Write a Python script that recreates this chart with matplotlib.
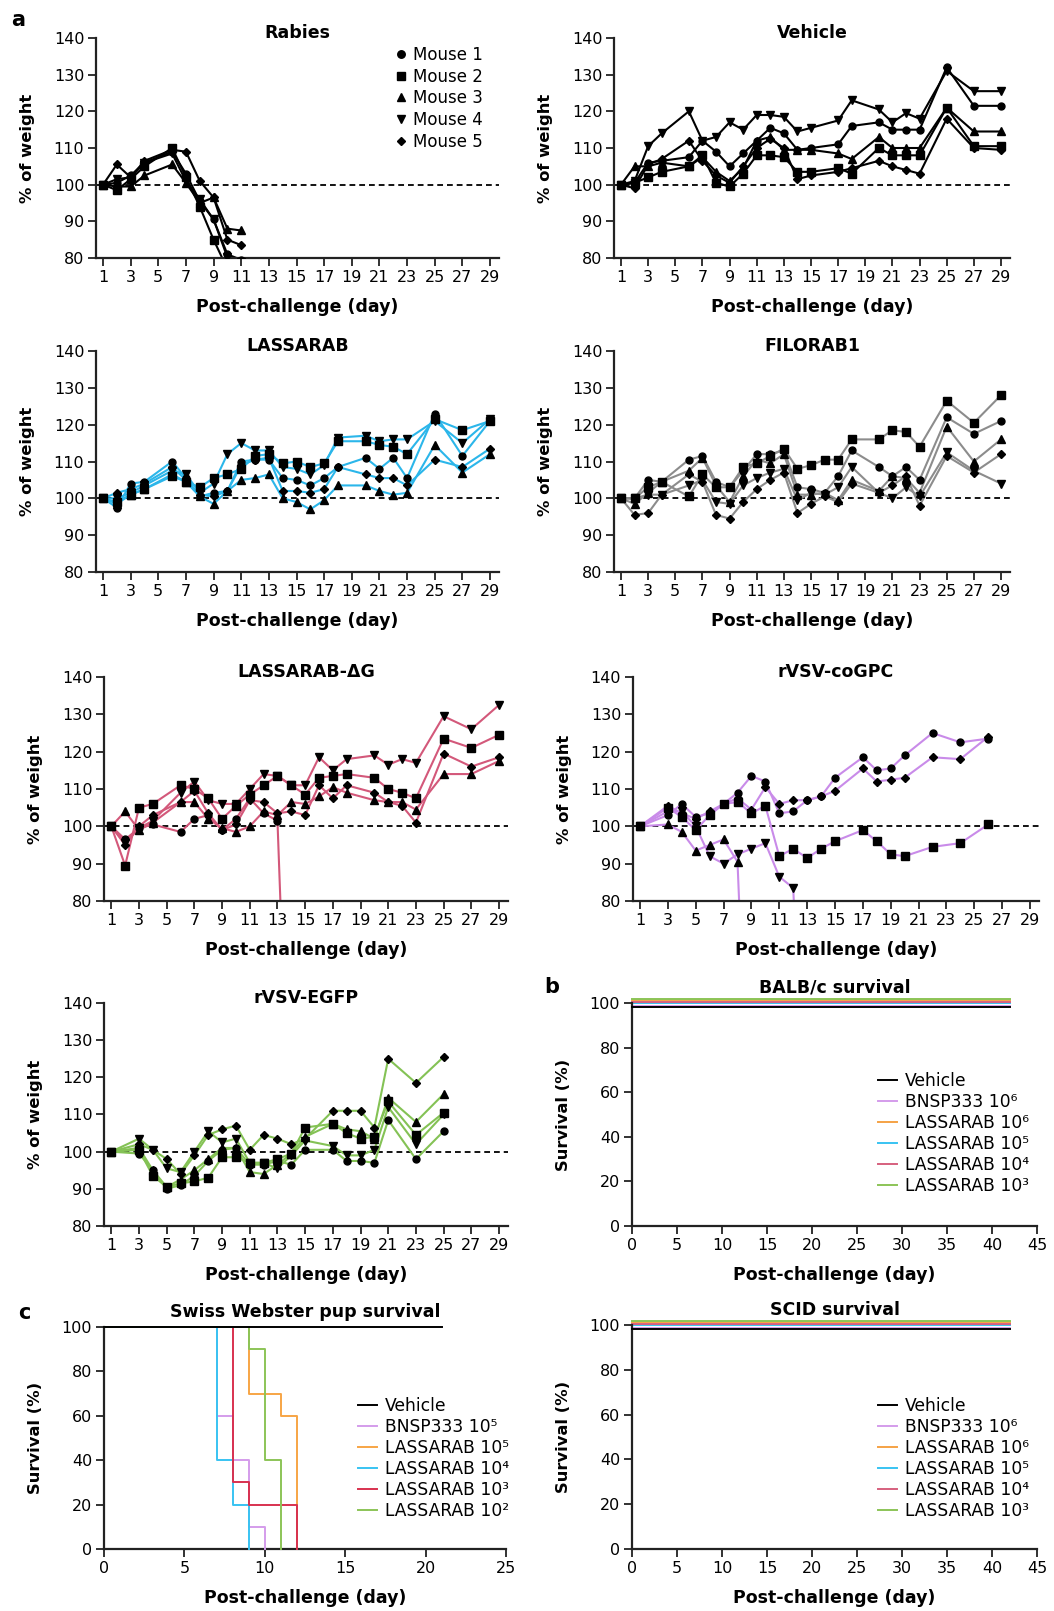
import numpy as np
import matplotlib
matplotlib.use("Agg")
import matplotlib.pyplot as plt
from matplotlib.lines import Line2D
from matplotlib import transforms

plt.rcParams["font.family"] = ["DejaVu Sans"]

nan = np.nan

# ---------------- weight data (% of starting weight) ----------------
mouse_labels = ["Mouse 1", "Mouse 2", "Mouse 3", "Mouse 4", "Mouse 5"]

rabies_days = [1, 2, 3, 4, 6, 7, 8, 9, 10, 11]
rabies_m1 = [100, 100.5, 102.5, 106, 109, 103, 95.5, 90.5, 81, 79.5]
rabies_m2 = [100, 98.5, 101.5, 105, 110, 102, 94, 85, 77, nan]
rabies_m3 = [100, 99.5, 99.5, 102.5, 105.5, 100.5, 95, 96.5, 88, 87.5]
rabies_m4 = [100, 101.5, 102, 106, 108.5, 101, 96, 90.5, 80.2, 79]
rabies_m5 = [100, 105.5, 102, 106.5, 109.5, 109, 101, 96.5, 85, 83.5]

vehicle_days = [1, 2, 3, 4, 6, 7, 8, 9, 10, 11, 12, 13, 14, 15, 17, 18, 20, 21, 22, 23, 25, 27, 29]
vehicle_m1 = [100, 100.5, 106, 106.5, 107.5, 112, 109, 105, 108.5, 112, 115.5, 114, 109.5, 110, 111, 116, 117, 115, 115, 115, 132, 121.5, 121.5]
vehicle_m2 = [100, 100.5, 102, 103.5, 105, 108, 100.5, 99.5, 103, 108, 108, 107.5, 103.5, 103.5, 104.5, 103, 110, 108, 108, 108, 121, 110.5, 110.5]
vehicle_m3 = [100, 105, 105, 106, 105, 107.5, 103.5, 101, 104.5, 112, 113, 109.5, 109.5, 109.5, 108.5, 107, 113, 110, 110, 110, 121, 114.5, 114.5]
vehicle_m4 = [100, 101, 110.5, 114, 120, 112, 113, 117, 115, 119, 119, 118.5, 114.5, 115.5, 117.5, 123, 120.5, 117, 119.5, 118, 131, 125.5, 125.5]
vehicle_m5 = [100, 99, 105.5, 107, 112, 106.5, 102.5, 100.5, 105, 110, 112.5, 110, 101.5, 102.5, 103.5, 104.5, 106.5, 105, 104, 103, 118, 110, 109.5]

lassarab_days = [1, 2, 3, 4, 6, 7, 8, 9, 10, 11, 12, 13, 14, 15, 16, 17, 18, 20, 21, 22, 23, 25, 27, 29]
lassarab_m1 = [100, 97.5, 104, 104.5, 110, 105.5, 100.5, 101.5, 102, 110, 110.5, 110.5, 105.5, 105, 103.5, 105.5, 108.5, 111, 108, 111, 105.5, 123, 111.5, 121]
lassarab_m2 = [100, 99, 101, 102.5, 106, 104.5, 103, 105.5, 106.5, 108, 111.5, 112, 109.5, 110, 108.5, 109.5, 115.5, 115.5, 114.5, 114, 112, 121.5, 118.5, 121]
lassarab_m3 = [100, 98.5, 101, 102.5, 106.5, 104.5, 100.5, 98.5, 102, 105, 105.5, 106.5, 100, 99, 97, 99.5, 103.5, 103.5, 102, 101, 101.5, 114.5, 107, 112]
lassarab_m4 = [100, 100, 101.5, 103.5, 107.5, 106.5, 101.5, 104, 112, 115, 113, 113, 108.5, 108, 106.5, 109, 116.5, 117, 115.5, 116, 116, 121, 115, 121.5]
lassarab_m5 = [100, 101.5, 102.5, 104, 108.5, 105, 101, 100.5, 102, 109, 110.5, 111, 102, 102, 101.5, 102.5, 108.5, 106.5, 105.5, 105.5, 103.5, 110.5, 108.5, 113.5]

filorab_days = [1, 2, 3, 4, 6, 7, 8, 9, 10, 11, 12, 13, 14, 15, 16, 17, 18, 20, 21, 22, 23, 25, 27, 29]
filorab_m1 = [100, 100, 105, 104.5, 110.5, 111.5, 104.5, 103, 107.5, 112, 112, 113, 103, 102.5, 101.5, 106, 113, 108.5, 106, 108.5, 105, 122, 117.5, 121]
filorab_m2 = [100, 100, 103, 104.5, 100.5, 106.5, 103, 103, 108.5, 109.5, 111.5, 113.5, 108, 109, 110.5, 110.5, 116, 116, 118.5, 118, 114, 126.5, 120.5, 128]
filorab_m3 = [100, 98.5, 101.5, 104.5, 107.5, 111, 103.5, 99, 106, 110.5, 109.5, 112, 101, 101, 101.5, 99.5, 105, 102, 106, 105.5, 101.5, 119.5, 110, 116]
filorab_m4 = [100, 100, 101, 101, 103.5, 105, 99, 98.5, 103.5, 105.5, 107, 108, 99.5, 101.5, 101, 103, 108.5, 101.5, 100, 103, 100.5, 112.5, 107.5, 104]
filorab_m5 = [100, 95.5, 96, 101, 106.5, 104.5, 95.5, 94.5, 99, 102.5, 105, 107, 96, 98.5, 100.5, 99, 104, 101.5, 103.5, 106, 98, 111.5, 107, 112]

dg_days = [1, 2, 3, 4, 6, 7, 8, 9, 10, 11, 12, 13, 14, 15, 16, 17, 18, 20, 21, 22, 23, 25, 27, 29]
dg_m1 = [100, 96.5, 99.5, 100.5, 98.5, 102, 103, 99, 102, 107.5, 103.5, 101.5, 0, nan, nan, nan, nan, nan, nan, nan, nan, nan, nan, nan]
dg_m2 = [100, 89.5, 105, 106, 111, 110, 107.5, 102, 105.5, 108.5, 111, 113.5, 111, 108.5, 113, 113.5, 114, 113, 110, 109, 107.5, 123.5, 121, 124.5]
dg_m3 = [100, 104, 99, 101, 106.5, 106.5, 102, 99.5, 98.5, 100, 104, 103, 106.5, 106, 108, 110.5, 109, 107, 106.5, 106.5, 104.5, 114, 114, 117.5]
dg_m4 = [100, 95.5, 99.5, 101.5, 109, 112, 107, 106, 106, 110, 114, 113.5, 111, 111, 118.5, 115, 118, 119, 116.5, 118, 117, 129.5, 126, 132.5]
dg_m5 = [100, 95, 100, 103, 106.5, 109.5, 103.5, 99, 100.5, 107, 106.5, 103.5, 104, 103, 111, 107.5, 111, 109, 106.5, 105.5, 101, 119.5, 116, 118.5]

cogpc_days = [1, 3, 4, 5, 6, 7, 8, 9, 10, 11, 12, 13, 14, 15, 17, 18, 19, 20, 22, 24, 26]
cogpc_m1 = [100, 103, 106, 102.5, 103.5, 106, 109, 113.5, 112, 103.5, 104, 107, 108, 113, 118.5, 115, 115.5, 119, 125, 122.5, 123.5]
cogpc_m2 = [100, 105, 102.5, 99, 103, 106, 106.5, 103.5, 105.5, 92, 94, 91.5, 94, 96, 99, 96, 92.5, 92, 94.5, 95.5, 100.5]
cogpc_m3 = [100, 100.5, 98.5, 93.5, 95, 96.5, 90.5, 0, nan, nan, nan, nan, nan, nan, nan, nan, nan, nan, nan, nan, nan]
cogpc_m4 = [100, 104, 104, 100, 92, 90, 92.5, 94, 95.5, 86.5, 83.5, 0, nan, nan, nan, nan, nan, nan, nan, nan, nan]
cogpc_m5 = [100, 105.5, 103.5, 102, 104, 106, 107.5, 104.5, 110.5, 106, 107, 107, 108, 109.5, 115.5, 112, 112.5, 113, 118.5, 118, 124]

egfp_days = [1, 3, 4, 5, 6, 7, 8, 9, 10, 11, 12, 13, 14, 15, 17, 18, 19, 20, 21, 23, 25]
egfp_m1 = [100, 99.5, 95, 90, 91, 93.5, 97.5, 100.5, 101, 96.5, 96.5, 97.5, 96.5, 100.5, 100.5, 97.5, 97.5, 97, 108.5, 98, 105.5]
egfp_m2 = [100, 100.5, 93.5, 90.5, 91.5, 92, 93, 98.5, 98.5, 97, 97, 98, 99.5, 106.5, 107.5, 105, 103.5, 104, 113.5, 104.5, 110.5]
egfp_m3 = [100, 101, 95, 90.5, 92.5, 95, 98, 101, 101, 94.5, 94, 96.5, 99.5, 104, 107.5, 106, 105.5, 103.5, 114.5, 108, 115.5]
egfp_m4 = [100, 103.5, 100.5, 95.5, 94.5, 100, 105.5, 102.5, 103.5, 97, 97, 95.5, 99, 103, 101.5, 99, 99, 100.5, 112, 102, 110]
egfp_m5 = [100, 102, 100.5, 98, 94, 99, 104.5, 106, 107, 100.5, 104.5, 103.5, 102, 103.5, 111, 111, 111, 106.5, 125, 118.5, 125.5]

# ---------------- survival data (Kaplan-Meier steps) ----------------
adult_groups = ["Vehicle", "BNSP333 10\u2076", "LASSARAB 10\u2076",
                "LASSARAB 10\u2075", "LASSARAB 10\u2074", "LASSARAB 10\u00b3"]
adult_times = [0, 42]
adult_surv = [100, 100]

pup_groups = ["Vehicle", "BNSP333 10\u2075", "LASSARAB 10\u2075",
              "LASSARAB 10\u2074", "LASSARAB 10\u00b3", "LASSARAB 10\u00b2"]
pup_vehicle_t = [0, 21]
pup_vehicle_s = [100, 100]
pup_bnsp_t = [0, 7, 8, 9, 10]
pup_bnsp_s = [100, 60, 40, 10, 0]
pup_l5_t = [0, 9, 11, 12]
pup_l5_s = [100, 70, 60, 0]
pup_l4_t = [0, 7, 8, 9]
pup_l4_s = [100, 40, 20, 0]
pup_l3_t = [0, 8, 9, 12]
pup_l3_s = [100, 30, 20, 0]
pup_l2_t = [0, 9, 10, 11]
pup_l2_s = [100, 90, 40, 0]

# ---------------- figure helpers ----------------
W, H = 1054, 1611
fig = plt.figure(figsize=(W / 100, H / 100), dpi=100)
fig.patch.set_facecolor("white")

SPINE = "#222222"
markers = ["o", "s", "^", "v", "D"]
msizes = [5.0, 5.2, 5.4, 5.4, 3.9]


def px_axes(l, t, r, b):
    return fig.add_axes([l / W, 1 - b / H, (r - l) / W, (b - t) / H])


def px_text(x, y, s, **kw):
    return fig.text(x / W, 1 - y / H, s, **kw)


def style(ax):
    for s in ("top", "right"):
        ax.spines[s].set_visible(False)
    for s in ("left", "bottom"):
        ax.spines[s].set_linewidth(1.6)
        ax.spines[s].set_color(SPINE)
    ax.tick_params(direction="out", length=5.5, width=1.3, color=SPINE,
                   labelsize=11.5, pad=3)


def labels(l, t, r, b, title, xlabel, ylabel, title_gap):
    cx = (l + r) / 2
    px_text(cx, t - title_gap, title, ha="center", va="center",
            fontsize=12.5, fontweight="bold")
    px_text(cx, b + 49, xlabel, ha="center", va="center",
            fontsize=12.5, fontweight="bold")
    px_text(l - 69, (t + b) / 2, ylabel, ha="center", va="center",
            rotation=90, fontsize=11.8, fontweight="bold")


def weight_panel(d1, d29, top, bottom, title, days, series, color, sq=5.2):
    ppd = (d29 - d1) / 28
    l, r = d1 - 0.5 * ppd, d29 + 0.65 * ppd
    ax = px_axes(l, top, r, bottom)
    style(ax)
    ax.set_xlim(0.5, 29.65)
    ax.set_ylim(80, 140)
    ax.set_xticks(range(1, 30, 2))
    ax.set_yticks(range(80, 141, 10))
    ax.axhline(100, color="black", lw=1.3, ls=(0, (3.2, 2.2)), zorder=1)
    for vals, m, ms in zip(series, markers, msizes):
        if m == "s":
            ms = sq
        ax.plot(days, vals, color=color, lw=1.5, zorder=2)
        ax.plot(days, vals, ls="none", marker=m, ms=ms, mfc="black",
                mec="black", zorder=3)
    labels(l, top, r, bottom, title, "Post-challenge (day)", "% of weight", 5)
    return ax


# ---------------- panel a: weights ----------------
ax_rab = weight_panel(103, 490, 38, 258, "Rabies", rabies_days,
                      [rabies_m1, rabies_m2, rabies_m3, rabies_m4, rabies_m5], "black")
handles = [Line2D([], [], ls="none", marker=m, ms=ms + 0.4, color="black")
           for m, ms in zip(markers, msizes)]
ax_rab.legend(handles, mouse_labels, loc="upper left",
              bbox_to_anchor=(394 / W, 1 - 46 / H), bbox_transform=fig.transFigure,
              frameon=False, fontsize=12, borderpad=0, borderaxespad=0,
              handlelength=0.8, handletextpad=0.32, labelspacing=0.22)

weight_panel(621, 1001, 38, 258, "Vehicle", vehicle_days,
             [vehicle_m1, vehicle_m2, vehicle_m3, vehicle_m4, vehicle_m5], "black")
weight_panel(103, 490, 351, 572, "LASSARAB", lassarab_days,
             [lassarab_m1, lassarab_m2, lassarab_m3, lassarab_m4, lassarab_m5], "#2bb6ea")
weight_panel(621, 1001, 351, 572, "FILORAB1", filorab_days,
             [filorab_m1, filorab_m2, filorab_m3, filorab_m4, filorab_m5], "#8c8c8c")
weight_panel(111.3, 499, 677, 901, "LASSARAB-\u0394G", dg_days,
             [dg_m1, dg_m2, dg_m3, dg_m4, dg_m5], "#d3587a", sq=6.0)
weight_panel(640, 1030, 677, 901, "rVSV-coGPC", cogpc_days,
             [cogpc_m1, cogpc_m2, cogpc_m3, cogpc_m4, cogpc_m5], "#c98be9", sq=6.0)
weight_panel(111.3, 499, 1003, 1226, "rVSV-EGFP", egfp_days,
             [egfp_m1, egfp_m2, egfp_m3, egfp_m4, egfp_m5], "#84c255", sq=6.0)

# ---------------- panels b, c: survival ----------------
adult_colors = ["black", "#d49ceb", "#f5a245", "#38c3f2", "#d6607e", "#8cc457"]
adult_shift = [-4.3, -2.6, 3.0, 0.0, 1.5, 4.3]


def survival_axes(l, t, r, b, xmax, title):
    ax = px_axes(l, t, r, b)
    style(ax)
    ax.set_xlim(0, xmax)
    ax.set_ylim(0, 100)
    ax.set_xticks(range(0, xmax + 1, 5))
    ax.set_yticks(range(0, 101, 20))
    labels(l, t, r, b, title, "Post-challenge (day)", "Survival (%)", 15)
    return ax


def surv_legend(ax, left, top):
    ax.legend(loc="upper left", bbox_to_anchor=(left / W, 1 - top / H),
              bbox_transform=fig.transFigure, frameon=False, fontsize=12.3,
              borderpad=0, borderaxespad=0, handlelength=1.1,
              handletextpad=0.5, labelspacing=0.18)


for (l, t, r, b, title, ly) in [(632, 1003, 1037, 1226, "BALB/c survival", 1072),
                                (632, 1325, 1037, 1549, "SCID survival", 1397)]:
    ax = survival_axes(l, t, r, b, 45, title)
    for name, c, dy in zip(adult_groups, adult_colors, adult_shift):
        tr = transforms.offset_copy(ax.transData, fig=fig, x=0, y=dy, units="dots")
        ax.step(adult_times, adult_surv, where="post", color=c, lw=1.4,
                transform=tr, clip_on=False, label=name,
                zorder=3 if c == "black" else 2)
    surv_legend(ax, 878, ly)

ax_pup = survival_axes(104, 1327, 506, 1549, 25, "Swiss Webster pup survival")
pup_colors = ["black", "#d49ceb", "#f7a545", "#38c3f2", "#d8314f", "#8cc457"]
pup_series = [(pup_vehicle_t, pup_vehicle_s), (pup_bnsp_t, pup_bnsp_s),
              (pup_l5_t, pup_l5_s), (pup_l4_t, pup_l4_s),
              (pup_l3_t, pup_l3_s), (pup_l2_t, pup_l2_s)]
for name, c, (t, s) in zip(pup_groups, pup_colors, pup_series):
    ax_pup.step(t, s, where="post", color=c, lw=1.4,
                label=name, clip_on=False, zorder=4 if c == "black" else 3)
surv_legend(ax_pup, 358, 1397)

# panel letters
px_text(18, 20, "a", ha="center", va="center", fontsize=15, fontweight="bold")
px_text(552, 987, "b", ha="center", va="center", fontsize=15, fontweight="bold")
px_text(24, 1313, "c", ha="center", va="center", fontsize=15, fontweight="bold")

fig.savefig("out.png", dpi=100, facecolor="white")
